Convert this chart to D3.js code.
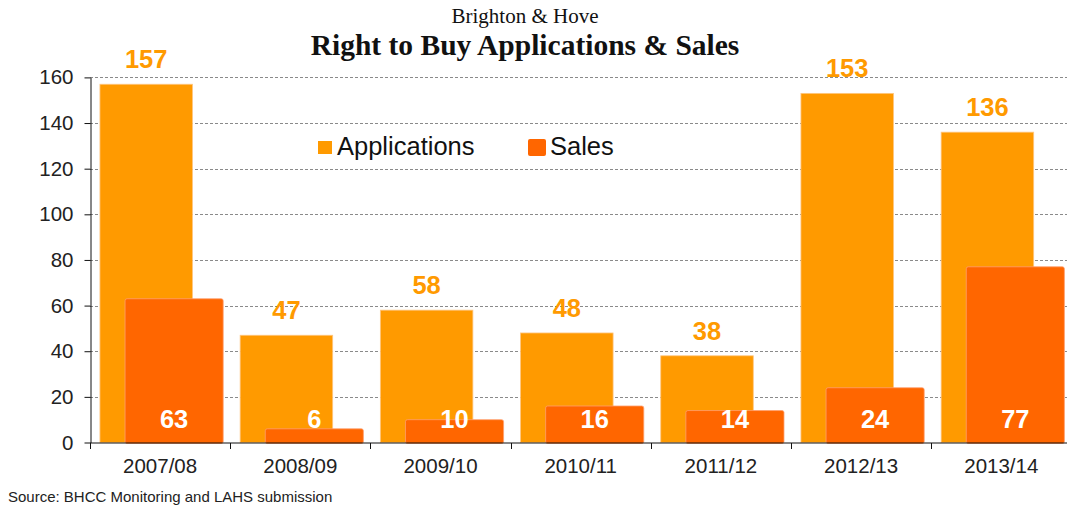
<!DOCTYPE html>
<html>
<head>
<meta charset="utf-8">
<script src="https://cdn.jsdelivr.net/npm/d3@7"></script>
<style>
  body { margin: 0; background: #fff; }
  svg { display: block; }
</style>
</head>
<body>
<div id="chart"></div>
<script>
// chart data
let years = ["2007/08", "2008/09", "2009/10", "2010/11", "2011/12", "2012/13", "2013/14"]
let applications = [157, 47, 58, 48, 38, 153, 136]
let sales = [63, 6, 10, 16, 14, 24, 77]
let yTicks = [0, 20, 40, 60, 80, 100, 120, 140, 160]

let appColor = "#FF9A00"
let salesColor = "#FF6600"

let W = 1067, H = 507
let margin = {left: 90, top: 77.4, bottom: 64.5}

let svg = d3.select("#chart").append("svg")
    .attr("width", W)
    .attr("height", H)

// scales
let x = d3.scaleBand().domain(years).range([margin.left, margin.left + 7 * 140.2]).padding(0)
let y = d3.scaleLinear().domain([0, 160]).range([H - margin.bottom, margin.top])
let bw = x.bandwidth()

// gridlines
svg.append("g")
    .selectAll("line")
    .data(yTicks.filter(d => d > 0))
    .enter()
    .append("line")
    .attr("x1", margin.left)
    .attr("x2", W)
    .attr("y1", d => Math.round(y(d)) + 0.5)
    .attr("y2", d => Math.round(y(d)) + 0.5)
    .attr("stroke", "#8a8a8a")
    .attr("stroke-width", 1)
    .attr("stroke-dasharray", "3,2")

// application bars
svg.append("g")
    .selectAll("rect")
    .data(years)
    .enter()
    .append("rect")
    .attr("x", d => x(d) + bw * 0.071)
    .attr("width", bw * 0.66)
    .attr("y", (d, i) => y(applications[i]))
    .attr("height", (d, i) => y(0) - y(applications[i]))
    .attr("fill", appColor)
    .attr("stroke", "#ffc680")
    .attr("stroke-width", 0.8)

// sales bars
svg.append("g")
    .selectAll("rect")
    .data(years)
    .enter()
    .append("rect")
    .attr("x", d => x(d) + bw * 0.25)
    .attr("width", bw * 0.70)
    .attr("y", (d, i) => y(sales[i]))
    .attr("height", (d, i) => y(0) - y(sales[i]) + 1)
    .attr("rx", 2)
    .attr("fill", salesColor)
    .attr("stroke", "#ffa070")
    .attr("stroke-width", 0.8)

// y axis
let yAxis = svg.append("g")
    .attr("transform", `translate(${margin.left + 0.5},0)`)
    .call(d3.axisLeft(y).tickValues(yTicks).tickSize(6).tickSizeOuter(0))
yAxis.select(".domain").attr("stroke", "#111")
yAxis.selectAll(".tick line").attr("stroke", "#111")
yAxis.selectAll("text")
    .attr("font-family", "Liberation Sans, Arial, sans-serif")
    .attr("font-size", 20.5)
    .attr("fill", "#222")
    .attr("x", -17)

// x axis
let xAxis = svg.append("g")
    .attr("transform", `translate(0,${y(0) + 0.5})`)
    .call(d3.axisBottom(x).tickSize(0).tickSizeOuter(0))
xAxis.select(".domain").attr("stroke", "#111").attr("d", `M${margin.left},0H${W}`)
xAxis.selectAll("text")
    .attr("font-family", "Liberation Sans, Arial, sans-serif")
    .attr("font-size", 20.5)
    .attr("fill", "#222")
    .attr("dy", "1.3em")
xAxis.selectAll(".sep")
    .data(years)
    .enter()
    .append("line")
    .attr("class", "sep")
    .attr("x1", d => Math.round(x(d)) + 0.5)
    .attr("x2", d => Math.round(x(d)) + 0.5)
    .attr("y1", 0)
    .attr("y2", 6)
    .attr("stroke", "#111")

// value labels
svg.append("g")
    .selectAll("text")
    .data(years)
    .enter()
    .append("text")
    .attr("x", d => x(d) + bw * 0.071 + bw * 0.33)
    .attr("y", (d, i) => y(applications[i]) - 16)
    .attr("text-anchor", "middle")
    .attr("font-family", "Liberation Sans, Arial, sans-serif")
    .attr("font-weight", "bold")
    .attr("font-size", 25.5)
    .attr("fill", appColor)
    .text((d, i) => applications[i])

svg.append("g")
    .selectAll("text")
    .data(years)
    .enter()
    .append("text")
    .attr("x", d => x(d) + bw * 0.25 + bw * 0.35)
    .attr("y", y(0) - 15)
    .attr("text-anchor", "middle")
    .attr("font-family", "Liberation Sans, Arial, sans-serif")
    .attr("font-weight", "bold")
    .attr("font-size", 25.5)
    .attr("fill", "#fff")
    .text((d, i) => sales[i])

// titles
svg.append("text")
    .attr("x", 525)
    .attr("y", 23)
    .attr("text-anchor", "middle")
    .attr("font-family", "Liberation Serif, Times New Roman, serif")
    .attr("font-size", 21)
    .attr("fill", "#111")
    .text("Brighton & Hove")

svg.append("text")
    .attr("x", 525)
    .attr("y", 55)
    .attr("text-anchor", "middle")
    .attr("font-family", "Liberation Serif, Times New Roman, serif")
    .attr("font-weight", "bold")
    .attr("font-size", 29.5)
    .attr("fill", "#111")
    .text("Right to Buy Applications & Sales")

// legend
let legend = [{name: "Applications", color: appColor, x: 318}, {name: "Sales", color: salesColor, x: 528}]
let lg = svg.append("g")
    .selectAll("g")
    .data(legend)
    .enter()
    .append("g")
    .attr("transform", d => `translate(${d.x},140)`)
lg.append("rect")
    .attr("width", (d, i) => i == 0 ? 14 : 18)
    .attr("height", (d, i) => i == 0 ? 13 : 17)
    .attr("y", (d, i) => i == 0 ? 1 : -1)
    .attr("rx", (d, i) => i == 0 ? 0 : 2)
    .attr("fill", d => d.color)
lg.append("text")
    .attr("x", (d, i) => i == 0 ? 19 : 22)
    .attr("y", 15)
    .attr("font-family", "Liberation Sans, Arial, sans-serif")
    .attr("font-size", 25.5)
    .attr("fill", "#111")
    .text(d => d.name)

// source note
svg.append("text")
    .attr("x", 8)
    .attr("y", 502)
    .attr("font-family", "Liberation Sans, Arial, sans-serif")
    .attr("font-size", 15)
    .attr("fill", "#222")
    .text("Source: BHCC Monitoring and LAHS submission")
</script>
</body>
</html>
